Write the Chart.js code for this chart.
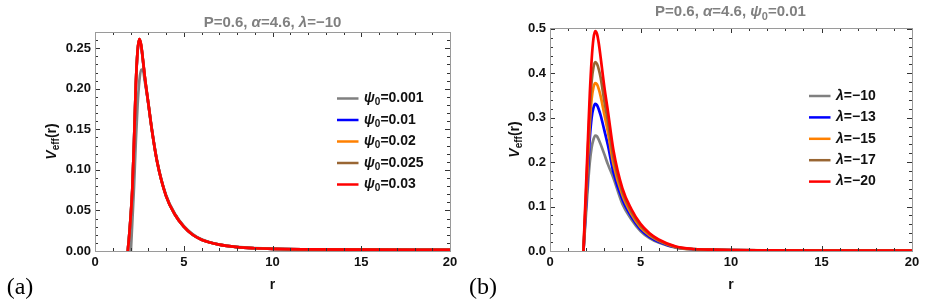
<!DOCTYPE html>
<html>
<head>
<meta charset="utf-8">
<script src="https://cdn.jsdelivr.net/npm/chart.js@4.4.1/dist/chart.umd.min.js"></script>
<style>
  body { margin: 0; background: #fff; width: 926px; height: 306px; position: relative; overflow: hidden; }
  .panel { position: absolute; top: 0; width: 463px; height: 306px; }
</style>
</head>
<body>
<div class="panel" style="left:0"><canvas id="chartA" width="463" height="306"></canvas></div>
<div class="panel" style="left:463px"><canvas id="chartB" width="463" height="306"></canvas></div>
<script>
// r grid shared by every curve
const rValues = [1.8, 1.85, 1.9, 2.0, 2.1, 2.2, 2.3, 2.4, 2.5, 2.6, 2.7, 2.8, 3.0, 3.2, 3.5, 4.0, 4.5, 5, 5.5, 6, 7, 8, 9, 10, 12, 15, 20];

// panel (a): P=0.6, alpha=4.6, lambda=-10, varying psi0
const psiValues = ['0.001', '0.01', '0.02', '0.025', '0.03'];
const vPsi001  = [-0.12, -0.09, -0.06, -0.01, 0.035, 0.08, 0.135, 0.18, 0.21, 0.2235, 0.223, 0.21, 0.183, 0.151, 0.111, 0.069, 0.046, 0.031, 0.021, 0.0145, 0.008, 0.005, 0.0035, 0.0027, 0.0021, 0.0017, 0.0015];
const vPsi01   = [-0.03, 0, 0.012, 0.04, 0.075, 0.135, 0.204, 0.246, 0.2605, 0.253, 0.235, 0.215, 0.182, 0.15, 0.11, 0.068, 0.045, 0.03, 0.02, 0.014, 0.0078, 0.0048, 0.0034, 0.0026, 0.002, 0.0016, 0.0014];
const vPsi02   = [-0.03, 0, 0.012, 0.04, 0.075, 0.135, 0.205, 0.247, 0.261, 0.2535, 0.2355, 0.2155, 0.1825, 0.15, 0.11, 0.068, 0.045, 0.03, 0.02, 0.014, 0.0078, 0.0048, 0.0034, 0.0026, 0.002, 0.0016, 0.0014];
const vPsi025  = [-0.03, 0, 0.012, 0.04, 0.075, 0.135, 0.205, 0.247, 0.2612, 0.2538, 0.2358, 0.2158, 0.183, 0.15, 0.11, 0.068, 0.045, 0.03, 0.02, 0.014, 0.0078, 0.0048, 0.0034, 0.0026, 0.002, 0.0016, 0.0014];
const vPsi03   = [-0.03, 0, 0.012, 0.04, 0.075, 0.135, 0.205, 0.247, 0.2615, 0.254, 0.236, 0.216, 0.183, 0.15, 0.11, 0.068, 0.045, 0.03, 0.02, 0.014, 0.0078, 0.0048, 0.0034, 0.0026, 0.002, 0.0016, 0.0014];

// panel (b): P=0.6, alpha=4.6, psi0=0.01, varying lambda
const lambdaValues = [-10, -13, -15, -17, -20];
const vLam10 = [-0.03, 0, 0.03, 0.09, 0.15, 0.2, 0.233, 0.251, 0.26, 0.258, 0.25, 0.24, 0.218, 0.195, 0.165, 0.106, 0.071, 0.045, 0.029, 0.019, 0.007, 0.0035, 0.0025, 0.0018, 0.0013, 0.001, 0.0008];
const vLam13 = [-0.04, 0, 0.038, 0.108, 0.185, 0.255, 0.3, 0.322, 0.331, 0.328, 0.318, 0.305, 0.272, 0.238, 0.178, 0.116, 0.077, 0.049, 0.032, 0.021, 0.0078, 0.0038, 0.0026, 0.0019, 0.0014, 0.001, 0.0008];
const vLam15 = [-0.045, 0, 0.043, 0.122, 0.21, 0.288, 0.342, 0.368, 0.378, 0.375, 0.364, 0.348, 0.308, 0.268, 0.196, 0.126, 0.083, 0.053, 0.035, 0.023, 0.0083, 0.004, 0.0027, 0.002, 0.0014, 0.0011, 0.0009];
const vLam17 = [-0.05, 0, 0.048, 0.136, 0.232, 0.32, 0.382, 0.413, 0.425, 0.421, 0.408, 0.39, 0.338, 0.292, 0.212, 0.133, 0.088, 0.057, 0.038, 0.024, 0.0088, 0.0042, 0.0028, 0.002, 0.0015, 0.0011, 0.0009];
const vLam20 = [-0.06, 0, 0.055, 0.155, 0.255, 0.355, 0.43, 0.478, 0.495, 0.488, 0.466, 0.435, 0.37, 0.315, 0.228, 0.141, 0.094, 0.061, 0.04, 0.026, 0.0095, 0.0045, 0.003, 0.0021, 0.0015, 0.0011, 0.0009];

const xTicks = [0, 5, 10, 15, 20];
const yTicksA = [0, 0.05, 0.10, 0.15, 0.20, 0.25];
const yTicksB = [0, 0.1, 0.2, 0.3, 0.4, 0.5];

const colors = ['#808080', '#0000ff', '#ff8000', '#996633', '#ff0000'];
const SANS = '"Liberation Sans", Arial, sans-serif';

// draw a run of bold text pieces; kind 'i' = italic, 's' = subscript
function richText(ctx, parts, x, y, size, color, align) {
  const fontFor = k => (k === 'i' ? 'italic bold ' : 'bold ') + (k === 's' ? Math.round(size * 0.72) : size) + 'px ' + SANS;
  let w = 0;
  parts.forEach(([t, k]) => { ctx.font = fontFor(k); w += ctx.measureText(t).width; });
  let cx = align === 'center' ? x - w / 2 : x;
  ctx.fillStyle = color;
  ctx.textBaseline = 'middle';
  ctx.textAlign = 'left';
  parts.forEach(([t, k]) => {
    ctx.font = fontFor(k);
    ctx.fillText(t, cx, k === 's' ? y + size * 0.3 : y);
    cx += ctx.measureText(t).width;
  });
}

const framePlugin = {
  id: 'frame',
  afterDatasetsDraw(chart, args, o) {
    const { ctx, chartArea: a, scales: { x, y } } = chart;
    ctx.save();
    ctx.strokeStyle = '#333';
    ctx.lineWidth = 1;
    ctx.beginPath();
    for (let v = 0; v <= 20.0001; v += 1) {
      const px = Math.round(x.getPixelForValue(v)) + 0.5;
      const len = v % 5 === 0 ? 5 : 3;
      ctx.moveTo(px, a.bottom); ctx.lineTo(px, a.bottom - len);
      ctx.moveTo(px, a.top); ctx.lineTo(px, a.top + len);
    }
    for (let i = 0; i * o.yMinor <= y.max + 1e-9; i++) {
      const py = Math.round(y.getPixelForValue(i * o.yMinor)) + 0.5;
      const len = i % o.perMajor === 0 ? 5 : 3;
      ctx.moveTo(a.left, py); ctx.lineTo(a.left + len, py);
      ctx.moveTo(a.right, py); ctx.lineTo(a.right - len, py);
    }
    ctx.stroke();
    ctx.strokeStyle = '#9a9a9a';
    ctx.strokeRect(Math.round(a.left) + 0.5, Math.round(a.top) + 0.5, Math.round(a.right - a.left), Math.round(a.bottom - a.top));
    ctx.restore();
  },
  afterDraw(chart, args, o) {
    const { ctx, chartArea: a } = chart;
    ctx.save();
    richText(ctx, o.title, o.titleX, o.titleY, 15, '#808080', 'center');
    // legend
    o.labels.forEach((parts, i) => {
      const ly = o.legY + i * o.legDy;
      ctx.strokeStyle = colors[i];
      ctx.lineWidth = 2.5;
      ctx.beginPath(); ctx.moveTo(o.legX, ly); ctx.lineTo(o.legX + 21.5, ly); ctx.stroke();
      richText(ctx, parts, o.legX + 27, ly, 14, '#111', 'left');
    });
    // axis labels
    richText(ctx, [['r', '']], (a.left + a.right) / 2, 285, 14, '#111', 'center');
    ctx.save();
    ctx.translate(52, (a.top + a.bottom) / 2);
    ctx.rotate(-Math.PI / 2);
    richText(ctx, [['V', 'i'], ['eff', 's'], ['(r)', '']], 0, 0, 14, '#111', 'center');
    ctx.restore();
    ctx.font = '24px "Liberation Serif", "DejaVu Serif", serif';
    ctx.fillStyle = '#000';
    ctx.textAlign = 'center';
    ctx.textBaseline = 'middle';
    ctx.fillText(o.panel, 20, 288);
    ctx.restore();
  }
};

function makeChart(id, series, names, yMax, yTicks, dec, yWidth, pad, frameOpts) {
  return new Chart(document.getElementById(id), {
    type: 'line',
    data: {
      datasets: series.map((vals, i) => ({
        label: names[i],
        data: rValues.map((r, j) => ({ x: r, y: vals[j] })),
        borderColor: colors[i],
        borderWidth: 2.7,
        pointRadius: 0,
        cubicInterpolationMode: 'monotone',
        fill: false,
        clip: 0,
        order: series.length - 1 - i
      }))
    },
    options: {
      responsive: false,
      animation: false,
      devicePixelRatio: 1,
      layout: { padding: pad },
      plugins: { legend: { display: false }, tooltip: { enabled: false }, title: { display: false }, frame: frameOpts },
      scales: {
        x: {
          type: 'linear', min: 0, max: 20,
          afterBuildTicks: s => { s.ticks = xTicks.map(v => ({ value: v })); },
          afterFit: s => { s.height = 55; },
          grid: { display: false, drawTicks: false },
          border: { display: false },
          ticks: { padding: 4, maxRotation: 0, color: '#111', font: { family: SANS, size: 13, weight: 'bold' }, callback: v => String(v) }
        },
        y: {
          type: 'linear', min: 0, max: yMax,
          afterBuildTicks: s => { s.ticks = yTicks.map(v => ({ value: v })); },
          afterFit: s => { s.width = yWidth; },
          grid: { display: false, drawTicks: false },
          border: { display: false },
          ticks: { padding: 4, color: '#111', font: { family: SANS, size: 13, weight: 'bold' }, callback: v => Number(v).toFixed(dec) }
        }
      }
    },
    plugins: [framePlugin]
  });
}

makeChart('chartA', [vPsi001, vPsi01, vPsi02, vPsi025, vPsi03], psiValues.map(p => 'ψ0=' + p),
  0.27, yTicksA, 2, 95, { left: 0, right: 13, top: 32, bottom: 0 }, {
    yMinor: 0.01, perMajor: 5,
    title: [['P=0.6, ', ''], ['α', 'i'], ['=4.6, ', ''], ['λ', 'i'], ['=−10', '']],
    titleX: 272.5, titleY: 23,
    labels: psiValues.map(p => [['ψ', 'i'], ['0', 's'], ['=' + p, '']]),
    legX: 337, legY: 98.5, legDy: 21.5,
    panel: '(a)'
  });

makeChart('chartB', [vLam10, vLam13, vLam15, vLam17, vLam20], lambdaValues.map(l => 'λ=' + l),
  0.502, yTicksB, 1, 87, { left: 0, right: 14, top: 28, bottom: 0 }, {
    yMinor: 0.02, perMajor: 5,
    title: [['P=0.6, ', ''], ['α', 'i'], ['=4.6, ', ''], ['ψ', 'i'], ['0', 's'], ['=0.01', '']],
    titleX: 267.5, titleY: 12,
    labels: lambdaValues.map(l => [['λ', 'i'], ['=' + String(l).replace('-', '−'), '']]),
    legX: 346, legY: 96, legDy: 21.4,
    panel: '(b)'
  });
</script>
</body>
</html>
